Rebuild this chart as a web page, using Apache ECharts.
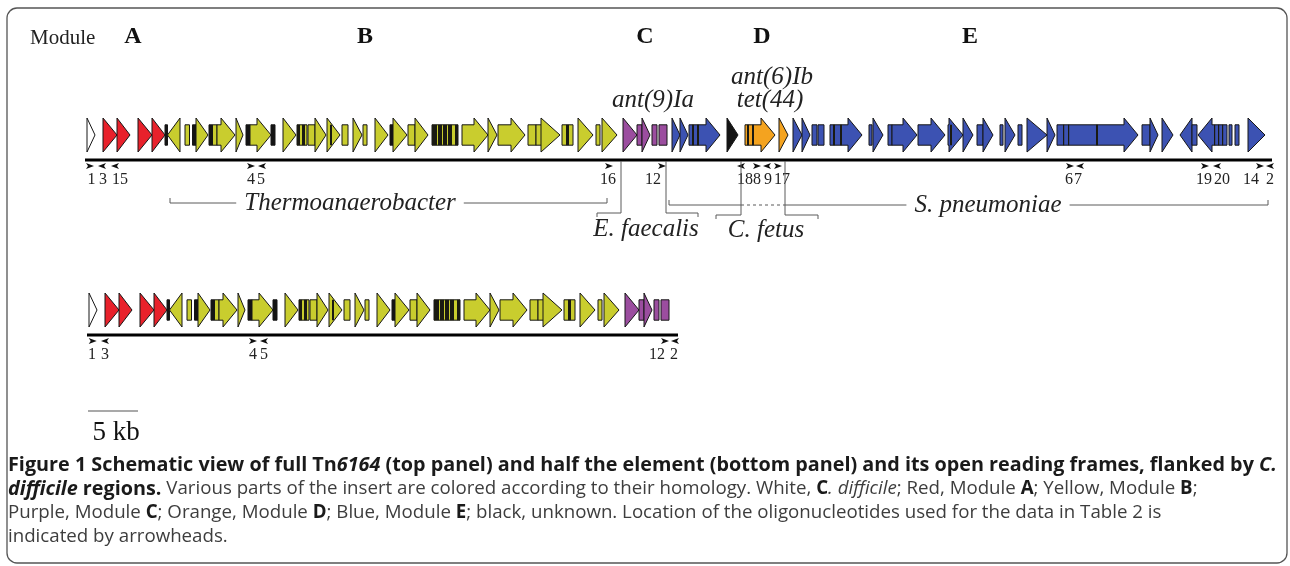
<!DOCTYPE html>
<html>
<head>
<meta charset="utf-8">
<script src="https://cdn.jsdelivr.net/npm/echarts@6/dist/echarts.min.js"></script>
<style>
html, body { margin: 0; padding: 0; background: #fff; }
#map { width: 1290px; height: 566px; }
</style>
</head>
<body>
<div id="map"></div>
<script>
/* ---------------- data (kb from the left end of the drawn region) ---------------- */
// ORFs: [start, end, shape, colour]; shape: 't' triangle, 'lt' left triangle, '>' arrow, '<' left arrow, '|' box
var genes = [
	[0.2, 1.0, 't', 'w'],
	[1.8, 3.2, 't', 'r'], [3.2, 4.5, 't', 'r'], [5.3, 6.7, 't', 'r'], [6.7, 8.0, 't', 'r'],
	[8.0, 8.25, '|', 'k'], [8.25, 9.5, 'lt', 'y'],
	[10.0, 10.45, '|', 'y'], [10.75, 11.1, '|', 'k'], [11.1, 12.3, 't', 'y'],
	[12.4, 12.75, '|', 'k'], [12.75, 13.2, '|', 'y'], [13.2, 15.0, '>', 'y'],
	[15.1, 15.8, 't', 'y'], [16.1, 16.5, '|', 'k'], [16.5, 18.6, '>', 'y'], [18.6, 19.0, '|', 'k'],
	[19.8, 21.1, 't', 'y'], [21.2, 22.2, '|', 'y'], [22.3, 23.0, '|', 'y'], [23.0, 24.1, 't', 'y'],
	[24.2, 25.5, 't', 'y'], [25.7, 26.3, '|', 'y'], [26.8, 27.7, 't', 'y'], [27.8, 28.2, '|', 'y'],
	[29.0, 30.3, 't', 'y'], [30.5, 30.8, '|', 'k'], [30.8, 32.2, 't', 'y'],
	[32.3, 33.0, '|', 'y'], [33.0, 34.3, 't', 'y'], [34.7, 37.3, '|', 'y'],
	[37.7, 40.3, '>', 'y'], [40.3, 41.2, 't', 'y'], [41.3, 44.0, '>', 'y'],
	[44.3, 45.1, '|', 'y'], [45.1, 45.8, '|', 'y'], [45.6, 47.5, 't', 'y'],
	[47.7, 48.8, '|', 'y'], [49.3, 50.8, 't', 'y'], [51.1, 51.5, '|', 'y'], [51.7, 53.2, 't', 'y'],
	[53.8, 55.2, 't', 'p'], [55.2, 55.7, '|', 'p'], [55.7, 56.5, 't', 'p'], [56.7, 57.2, '|', 'p'], [57.4, 58.2, '|', 'p'],
	[58.7, 59.5, 't', 'b'], [59.5, 60.3, 't', 'b'], [60.4, 63.5, '>', 'b'],
	[64.2, 65.3, 't', 'k'],
	[66.0, 69.0, '>', 'o'], [69.4, 70.3, 't', 'o'],
	[70.8, 71.7, 't', 'b'], [71.7, 72.5, 't', 'b'], [72.7, 73.2, '|', 'b'], [73.3, 73.9, '|', 'b'],
	[74.5, 77.7, '>', 'b'], [78.4, 78.7, '|', 'b'], [78.8, 79.8, 't', 'b'],
	[80.3, 80.7, '|', 'b'], [80.7, 83.2, '>', 'b'], [83.3, 86.0, '>', 'b'], [86.3, 87.8, '>', 'b'],
	[87.8, 88.8, 't', 'b'], [89.2, 89.8, '|', 'b'], [89.8, 90.8, 't', 'b'],
	[91.5, 91.8, '|', 'b'], [92.0, 93.0, 't', 'b'], [93.3, 93.7, '|', 'b'],
	[94.2, 96.2, 't', 'b'], [96.2, 97.0, 't', 'b'], [97.2, 105.3, '>', 'b'],
	[105.7, 106.5, '|', 'b'], [106.5, 107.3, 't', 'b'], [107.7, 108.8, 't', 'b'],
	[109.5, 110.7, 'lt', 'b'], [110.7, 111.2, '|', 'b'], [111.3, 114.2, '<', 'b'],
	[114.4, 114.7, '|', 'b'], [115.0, 115.4, '|', 'b'], [116.3, 118.0, 't', 'b']
];
// dark stripes drawn inside ORFs: [start, end]
var darkBars = [
	[21.2, 21.5], [21.7, 22.0], [24.5, 24.7],
	[34.7, 35.2], [35.3, 35.7], [35.8, 36.2], [36.3, 36.7], [37.0, 37.3],
	[48.1, 48.4],
	[60.7, 60.9], [61.2, 61.4], [66.2, 66.4], [66.7, 66.9],
	[74.8, 75.0], [75.5, 75.7], [86.5, 86.7],
	[97.8, 97.9], [98.3, 98.4], [101.1, 101.3],
	[112.9, 113.0], [113.3, 113.4], [113.7, 113.8]
];
var fullLength = 118.7;		// full Tn6164 panel
var halfLength = 59.1;		// half element panel
var halfLastOrf = 58.3;		// half element stops after module C

// oligonucleotides: [position, direction, label, label position]
var primersTop = [
	[0.5, '>', '1', 0.65], [1.7, '<', '3', 1.8], [3.0, '<', '15', 3.5],
	[16.6, '>', '4', 16.6], [17.7, '<', '5', 17.6],
	[52.4, '>', '16', 52.3], [57.7, '>', '12', 56.8],
	[65.6, '<', '18', 66.0], [67.2, '>', '8', 67.2], [68.2, '<', '9', 68.3], [69.3, '>', '17', 69.7],
	[98.5, '>', '6', 98.4], [99.5, '<', '7', 99.3],
	[112.0, '>', '19', 111.9], [113.2, '<', '20', 113.7],
	[117.5, '>', '14', 116.6], [118.5, '<', '2', 118.5]
];
var primersBottom = [
	[0.57, '>', '1', 0.5], [1.8, '<', '3', 1.8],
	[16.6, '>', '4', 16.6], [17.7, '<', '5', 17.7],
	[57.8, '>', '12', 57.0], [58.8, '<', '2', 58.7]
];

// homology regions under the full element
var thermoSpan = [8.5, 52.2];
var faecalisSpans = [[51.2, 53.6], [58.1, 61.3]];
var fetusSpans = [[63.1, 65.6], [70.0, 73.3]];
var pneumoSpan = [58.4, 118.3];
var regionNames = ['Thermoanaerobacter', 'E. faecalis', 'C. fetus', 'S. pneumoniae'];
var regionLabelKb = [26.5, 56.1, 68.1, 90.3];

var moduleNames = ['A', 'B', 'C', 'D', 'E'];
var moduleKb = [4.8, 28.0, 56.0, 67.7, 88.5];
var geneNames = ['ant(9)Ia', 'ant(6)Ib', 'tet(44)'];
var geneNameKb = [56.8, 68.7, 68.5];

var scaleBar = [0.3, 5.3];	// 5 kb

/* ---------------- drawing ---------------- */
var HEAD = 1.4;
var SERIF = '"Liberation Serif", "Times New Roman", serif';
var fills = { w: '#ffffff', r: '#e8212b', y: '#c9cd2e', p: '#9b4d9f', o: '#f4a31f', b: '#3c52b2', k: '#141414' };

var genesHalf = genes.filter(function (g) { return g[1] <= halfLastOrf; });
var darkHalf = darkBars.filter(function (d) { return d[1] <= halfLastOrf; });

function geneItem(list) {
	return function (params, api) {
		var g = list[params.dataIndex];
		var a = api.coord([g[0], 1]), c = api.coord([g[1], 0]);
		var x0 = a[0], x1 = c[0], top = a[1], bot = c[1];
		var mid = (top + bot) / 2, bh = (bot - top) * 0.3;
		var head = Math.min(api.size([HEAD, 0])[0], x1 - x0);
		var st = { fill: fills[g[3]], stroke: '#161616', lineWidth: 1 };
		var pts, h;
		if (g[2] === '|') {
			return { type: 'rect', shape: { x: x0, y: mid - bh, width: x1 - x0, height: 2 * bh }, style: st };
		}
		if (g[2] === 't') pts = [[x0, top], [x1, mid], [x0, bot]];
		else if (g[2] === 'lt') pts = [[x1, top], [x0, mid], [x1, bot]];
		else if (g[2] === '>') {
			h = x1 - head;
			pts = [[x0, mid - bh], [h, mid - bh], [h, top], [x1, mid], [h, bot], [h, mid + bh], [x0, mid + bh]];
		} else {
			h = x0 + head;
			pts = [[x1, mid - bh], [h, mid - bh], [h, top], [x0, mid], [h, bot], [h, mid + bh], [x1, mid + bh]];
		}
		return { type: 'polygon', shape: { points: pts }, style: st };
	};
}

function darkItem(params, api) {
	var a = api.coord([api.value(0), 1]), c = api.coord([api.value(1), 0]);
	var mid = (a[1] + c[1]) / 2, bh = (c[1] - a[1]) * 0.3;
	return { type: 'rect', shape: { x: a[0], y: mid - bh, width: Math.max(1.2, c[0] - a[0]), height: 2 * bh }, style: { fill: '#1a1a12' } };
}

function backboneItem(params, api) {
	var a = api.coord([0, 0]), c = api.coord([api.value(0), 0]);
	return { type: 'line', shape: { x1: a[0], y1: a[1] + 8, x2: c[0], y2: a[1] + 8 }, style: { stroke: '#000', lineWidth: 3 } };
}

function primerItem(list) {
	return function (params, api) {
		var p = list[params.dataIndex];
		var base = api.coord([p[0], 0]);
		var x = base[0], y = base[1] + 14, d = p[1] === '>' ? 1 : -1;
		var lx = api.coord([p[3], 0])[0];
		return { type: 'group', children: [
			{ type: 'polygon', shape: { points: [[x - 4 * d, y - 3], [x + 4 * d, y], [x - 4 * d, y + 3], [x - 2 * d, y]] }, style: { fill: '#111' } },
			{ type: 'text', x: lx, y: base[1] + 28, style: { text: p[2], font: '16px ' + SERIF, fill: '#222', align: 'center', verticalAlign: 'middle' } }
		] };
	};
}

function regionItem(params, api) {
	var X = function (kb) { return api.coord([kb, 0])[0]; };
	var bot = api.coord([0, 0])[1], line = bot + 9;
	var out = [];
	function seg(x1, y1, x2, y2, dash) {
		out.push({ type: 'line', shape: { x1: x1, y1: y1, x2: x2, y2: y2 }, style: { stroke: '#5a5a5a', lineWidth: 1, lineDash: dash ? [3, 3] : null } });
	}
	function label(i, y, bg) {
		out.push({ type: 'text', x: X(regionLabelKb[i]), y: y, style: { text: regionNames[i], font: 'italic 25px ' + SERIF, fill: '#222', align: 'center', verticalAlign: 'middle', backgroundColor: bg ? '#fff' : null, padding: bg ? [0, 8] : 0 } });
	}
	function twoPart(spans, y) {
		seg(X(spans[0][0]), y, X(spans[0][1]), y);
		seg(X(spans[0][0]), y, X(spans[0][0]), y + 4);
		seg(X(spans[0][1]), line, X(spans[0][1]), y);
		seg(X(spans[1][0]), y, X(spans[1][1]), y);
		seg(X(spans[1][1]), y, X(spans[1][1]), y + 4);
		seg(X(spans[1][0]), line, X(spans[1][0]), y);
	}
	// Thermoanaerobacter
	var yT = bot + 51;
	seg(X(thermoSpan[0]), yT, X(thermoSpan[1]), yT);
	seg(X(thermoSpan[0]), yT - 5, X(thermoSpan[0]), yT);
	seg(X(thermoSpan[1]), yT - 5, X(thermoSpan[1]), yT);
	// S. pneumoniae, dashed across the C. fetus part
	var yS = bot + 53;
	seg(X(pneumoSpan[0]), yS, X(fetusSpans[0][1]), yS);
	seg(X(fetusSpans[0][1]), yS, X(fetusSpans[1][0]), yS, true);
	seg(X(fetusSpans[1][0]), yS, X(pneumoSpan[1]), yS);
	seg(X(pneumoSpan[0]), yS - 5, X(pneumoSpan[0]), yS);
	seg(X(pneumoSpan[1]), yS - 5, X(pneumoSpan[1]), yS);
	twoPart(faecalisSpans, bot + 61);
	twoPart(fetusSpans, bot + 63);
	label(0, yT, true);
	label(1, bot + 77, false);
	label(2, bot + 78, false);
	label(3, yS, true);
	return { type: 'group', children: out };
}

function headingItem(params, api) {
	var top = api.coord([0, 1])[1];
	var out = [];
	moduleNames.forEach(function (m, i) {
		out.push({ type: 'text', x: api.coord([moduleKb[i], 0])[0], y: top - 81, style: { text: m, font: 'bold 24px ' + SERIF, fill: '#111', align: 'center', verticalAlign: 'middle' } });
	});
	var dy = [-18, -41, -18];
	geneNames.forEach(function (n, i) {
		out.push({ type: 'text', x: api.coord([geneNameKb[i], 0])[0], y: top + dy[i], style: { text: n, font: 'italic 25px ' + SERIF, fill: '#222', align: 'center', verticalAlign: 'middle' } });
	});
	return { type: 'group', children: out };
}

function scaleItem(params, api) {
	var a = api.coord([api.value(0), 0.5]), c = api.coord([api.value(1), 0.5]);
	return { type: 'group', children: [
		{ type: 'line', shape: { x1: a[0], y1: a[1], x2: c[0], y2: c[1] }, style: { stroke: '#555', lineWidth: 1.2 } },
		{ type: 'text', x: (a[0] + c[0]) / 2 + 3, y: a[1] + 22, style: { text: '5 kb', font: '27px ' + SERIF, fill: '#111', align: 'center', verticalAlign: 'middle' } }
	] };
}

function xAx(i) { return { gridIndex: i, type: 'value', min: 0, max: 119, show: false }; }
function yAx(i) { return { gridIndex: i, type: 'value', min: 0, max: 1, show: false }; }
function custom(i, data, fn, z) {
	return { type: 'custom', xAxisIndex: i, yAxisIndex: i, data: data, renderItem: fn, z: z || 2, silent: true, animation: false };
}
function pos(list) { return list.map(function (p) { return [p[0], p[1]]; }); }

var chart = echarts.init(document.getElementById('map'), null, { renderer: 'canvas' });

var cap = {
	b: { fontFamily: 'Open Sans', fontWeight: 'bold', fontSize: 19.8, fill: '#1a1a1a' },
	bi: { fontFamily: 'Open Sans', fontWeight: 'bold', fontStyle: 'italic', fontSize: 19.8, fill: '#1a1a1a' },
	n: { fontFamily: 'Open Sans', fontSize: 18.7, fill: '#3d3d3d' },
	ni: { fontFamily: 'Open Sans', fontStyle: 'italic', fontSize: 18.7, fill: '#3d3d3d' },
	nb: { fontFamily: 'Open Sans', fontWeight: 'bold', fontSize: 18.7, fill: '#1a1a1a' }
};
var captionLines = [
	'{b|Figure 1 Schematic view of full Tn}{bi|6164}{b| (top panel) and half the element (bottom panel) and its open reading frames, flanked by }{bi|C.}',
	'{bi|difficile}{b| regions.}{n| Various parts of the insert are colored according to their homology. White, }{nb|C}{ni|. difficile}{n|; Red, Module }{nb|A}{n|; Yellow, Module }{nb|B}{n|;}',
	'{n|Purple, Module }{nb|C}{n|; Orange, Module }{nb|D}{n|; Blue, Module }{nb|E}{n|; black, unknown. Location of the oligonucleotides used for the data in Table 2 is}',
	'{n|indicated by arrowheads.}'
];

chart.setOption({
	backgroundColor: '#fff',
	animation: false,
	grid: [
		{ left: 85, top: 118, width: 1190, height: 34 },
		{ left: 87, top: 293, width: 1190, height: 34 },
		{ left: 85, top: 405, width: 1190, height: 12 }
	],
	xAxis: [xAx(0), xAx(1), xAx(2)],
	yAxis: [yAx(0), yAx(1), yAx(2)],
	series: [
		custom(0, [[fullLength]], backboneItem),
		custom(0, pos(genes), geneItem(genes), 3),
		custom(0, darkBars, darkItem, 4),
		custom(0, pos(primersTop), primerItem(primersTop)),
		custom(0, [[0]], regionItem),
		custom(0, [[0]], headingItem),
		custom(1, [[halfLength]], backboneItem),
		custom(1, pos(genesHalf), geneItem(genesHalf), 3),
		custom(1, darkHalf, darkItem, 4),
		custom(1, pos(primersBottom), primerItem(primersBottom)),
		custom(2, [scaleBar], scaleItem)
	],
	graphic: [
		{ type: 'rect', shape: { x: 7, y: 8, width: 1280, height: 555, r: 10 }, style: { fill: null, stroke: '#555', lineWidth: 1.3 } },
		{ type: 'text', x: 30, y: 38, style: { text: 'Module', font: '21px ' + SERIF, fill: '#222', verticalAlign: 'middle' } }
	].concat(captionLines.map(function (t, i) {
		return { type: 'text', x: 8, y: 465 + i * 24, style: { text: t, rich: cap, verticalAlign: 'middle', fontFamily: 'Open Sans', fontSize: 18.7 } };
	}))
});
</script>
</body>
</html>
